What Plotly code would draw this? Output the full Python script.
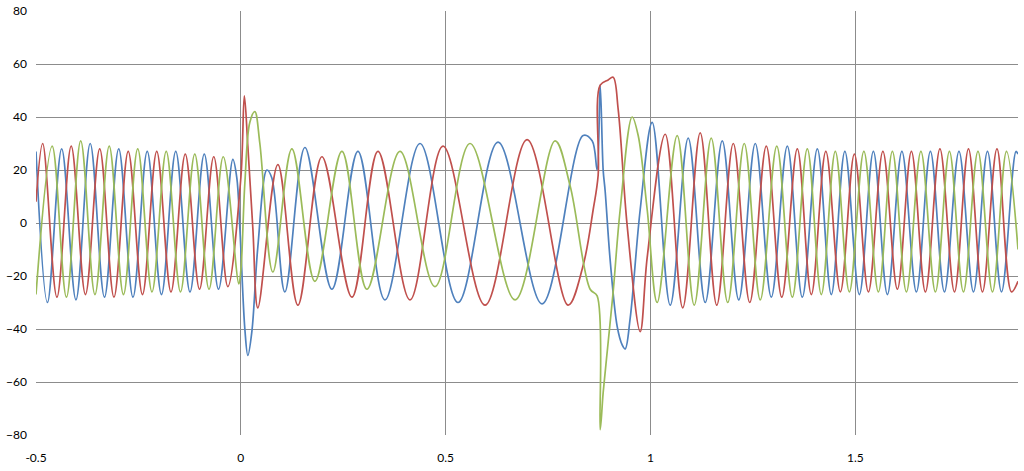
import plotly.graph_objects as go

# x-axis ticks and y-axis ticks
x_ticks = [-0.5, 0, 0.5, 1, 1.5]
x_tick_labels = ["-0.5", "0", "0.5", "1", "1.5"]
y_ticks = [-80, -60, -40, -20, 0, 20, 40, 60, 80]

# Phase 1 (blue): extrema (time, value)
blue_t = [-0.5, -0.4721, -0.4373, -0.4025, -0.3677, -0.3329, -0.2981, -0.2633, -0.2285, -0.1937,
          -0.1589, -0.1241, -0.0893, -0.0545, -0.0195,
          -0.0098, -0.0024, 0.0098, 0.0171, 0.0269, 0.0415, 0.0635, 0.0757, 0.1075,
          0.1564, 0.2223, 0.2858, 0.3518, 0.4373, 0.5301, 0.6278, 0.7353, 0.8355,
          0.8575, 0.8697, 0.8771, 0.8844, 0.8893, 0.9015, 0.9186, 0.9308, 0.9381, 0.9503, 0.9748, 1.0041, 1.0481,
          1.0920, 1.1336, 1.1751, 1.2154, 1.2557, 1.2948, 1.3339, 1.3705, 1.4072, 1.4413, 1.4744, 1.5098,
          1.5440, 1.5782, 1.6136, 1.6490, 1.6832, 1.7174, 1.7529, 1.7883, 1.8225, 1.8567, 1.8921, 1.897]
blue_v = [27, -30, 28, -29, 30, -28, 28, -28, 27, -27, 27, -26, 26, -25, 24,
          17, -2, -40, -50, -41, -9, 20, 17, -26,
          28.5, -25, 27, -29, 30, -30, 30.5, -30.5, 33,
          31, 20, 52, 20, 12, -14, -39, -46, -47.5, -36, 5, 38, -31,
          32, -30, 31, -29, 30, -28, 29, -28, 28, -27, 27, -27,
          27, -27, 27, -26, 27, -26, 27, -26, 27, -26, 27, 26]

# Phase 2 (red)
red_t = [-0.5, -0.4837, -0.4489, -0.4141, -0.3793, -0.3445, -0.3097, -0.2749, -0.2401, -0.2053,
         -0.1705, -0.1357, -0.1009, -0.0661, -0.0318,
         0.0, 0.0086, 0.0171, 0.0293, 0.0415,
         0.0904, 0.1393, 0.1979, 0.2712, 0.3347, 0.4129, 0.4935, 0.5961, 0.6987, 0.7989,
         0.8355, 0.8600, 0.8722, 0.8771, 0.8966, 0.9088, 0.9210, 0.9430, 0.9748, 0.9919, 1.0359,
         1.0786, 1.1213, 1.1617, 1.2020, 1.2422, 1.2826, 1.3204, 1.3583, 1.3925, 1.4279, 1.4634, 1.4976,
         1.5318, 1.5672, 1.6026, 1.6368, 1.6710, 1.7064, 1.7419, 1.7761, 1.8103, 1.8457, 1.8811, 1.897]
red_v = [8, 30, -28, 29, -27, 28, -28, 27, -27, 27, -26, 26, -25, 25, -24,
         17, 48, 29, -2, -32,
         22, -31, 25, -28, 27, -29, 29, -31, 31.5, -31,
         -16, 5, 18, 52, 54, 55, 43, -1, -41, -13, 33.5,
         -32, 34, -31, 30, -30, 29, -28, 28, -27, 27, -26, 26,
         -26, 27, -25, 27, -26, 28, -26, 28, -26, 28, -26, -22]

# Phase 3 (green)
green_t = [-0.5, -0.4605, -0.4257, -0.3909, -0.3561, -0.3213, -0.2865, -0.2517, -0.2169, -0.1821,
           -0.1473, -0.1125, -0.0777, -0.0429,
           -0.0049, 0.0, 0.0098, 0.0220, 0.0342, 0.0464,
           0.0782, 0.1246, 0.1808, 0.2467, 0.3078, 0.3884, 0.4739, 0.5594, 0.6694, 0.7671,
           0.8038, 0.8526, 0.8697, 0.8771, 0.8844, 0.8966, 0.9088, 0.9259, 0.9552, 0.9699, 0.9919, 1.0163,
           1.0651, 1.1067, 1.1482, 1.1885, 1.2288, 1.2679, 1.3082, 1.3461, 1.3827, 1.4169, 1.4511, 1.4853,
           1.5208, 1.5562, 1.5904, 1.6246, 1.6600, 1.6954, 1.7296, 1.7638, 1.7993, 1.8347, 1.8689, 1.897]
green_v = [-27, 29, -28, 31, -27, 29, -27, 28, -26, 27, -26, 26, -25, 25,
           -23, -18, 15, 38, 42, 30,
           -18.5, 28, -22, 27, -25, 27, -24, 30, -29, 31,
           14, -25, -27.5, -78, -64, -45, -26, 5, 40, 33, 5, -30,
           33, -31, 32, -30, 30, -29, 29, -28, 28, -27, 27, -26,
           27, -26, 27, -26, 27, -26, 27, -26, 27, -26, 27, -10]

series = [
    ("Phase A", blue_t, blue_v, "#4F81BD"),
    ("Phase B", red_t, red_v, "#C0504D"),
    ("Phase C", green_t, green_v, "#9BBB59"),
]

fig = go.Figure()
for name, t, v, color in series:
    fig.add_trace(go.Scatter(
        x=t, y=v, mode="lines", name=name,
        line=dict(color=color, width=1.7, shape="spline", smoothing=1.0),
    ))

grid = "#8C8C8C"
fig.update_layout(
    width=1024, height=471,
    margin=dict(l=36, r=6, t=11, b=36, autoexpand=False),
    paper_bgcolor="white", plot_bgcolor="white",
    showlegend=False,
    font=dict(family="Lato, Open Sans, sans-serif", size=12, color="#000000"),
)
fig.update_xaxes(
    range=[-0.5, 1.897], tickvals=x_ticks, ticktext=x_tick_labels,
    showgrid=True, gridcolor=grid, gridwidth=1, zeroline=False, automargin=False,
    showline=False, ticks="", ticklabelstandoff=14,
)
fig.update_yaxes(
    range=[-80, 80], tickvals=y_ticks,
    showgrid=True, gridcolor=grid, gridwidth=1, zeroline=False, automargin=False,
    showline=False, ticks="", ticklabelstandoff=8,
)
fig.write_html(
    "out.html",
    config={"displayModeBar": False},
    post_script="document.body.style.margin='0';document.body.style.overflow='hidden';",
)
